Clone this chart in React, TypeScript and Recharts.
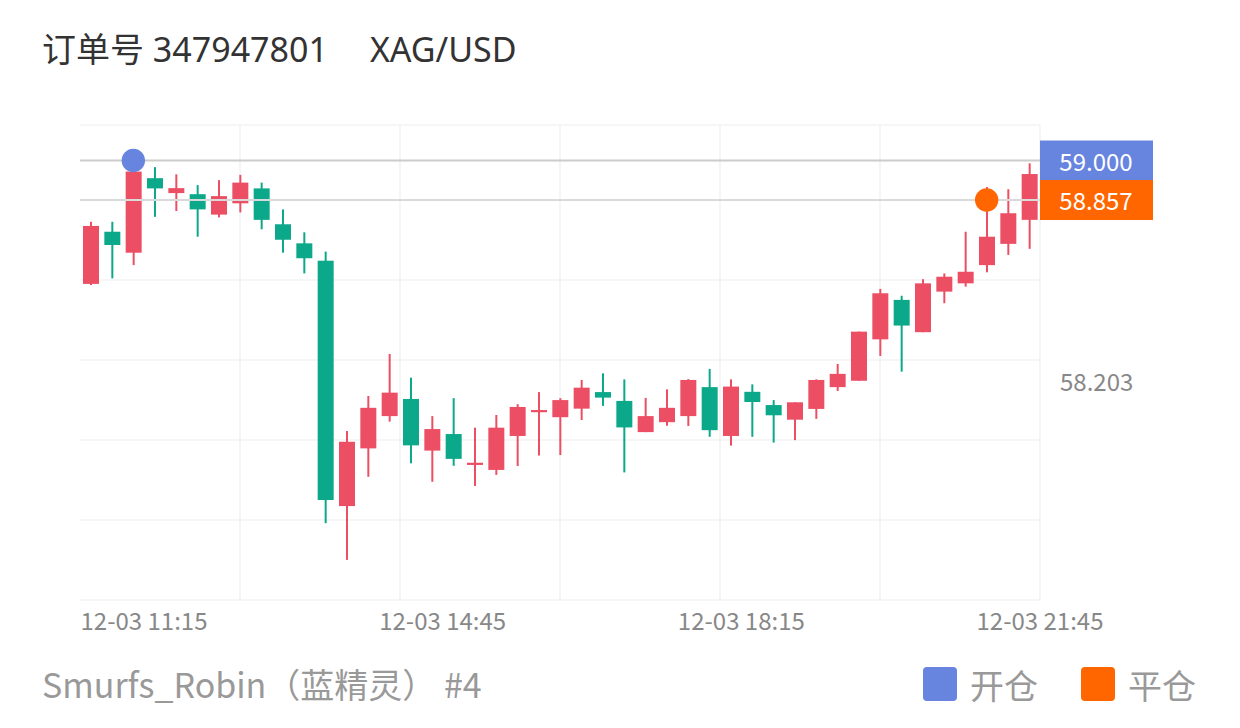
import React from 'react';
import {
  ComposedChart, Bar, XAxis, YAxis, ReferenceLine, ReferenceDot, CartesianGrid,
} from 'recharts';

// 15-minute candles, 12-03
const TIMES = [
  '10:30', '10:45', '11:00', '11:15', '11:30', '11:45', '12:00', '12:15', '12:30', '12:45',
  '13:00', '13:15', '13:30', '13:45', '14:00', '14:15', '14:30', '14:45', '15:00', '15:15',
  '15:30', '15:45', '16:00', '16:15', '16:30', '16:45', '17:00', '17:15', '17:30', '17:45',
  '18:00', '18:15', '18:30', '18:45', '19:00', '19:15', '19:30', '19:45', '20:00', '20:15',
  '20:30', '20:45', '21:00', '21:15', '21:30',
];
const OPEN = [
  58.553, 58.742, 58.666, 58.936, 58.882, 58.878, 58.804, 58.845, 58.899, 58.769,
  58.700, 58.637, 57.748, 57.957, 58.074, 58.136, 57.949, 58.009, 57.897, 57.879,
  58.002, 58.088, 58.070, 58.101, 58.161, 58.129, 58.016, 58.052, 58.074, 58.179,
  58.002, 58.162, 58.114, 58.061, 58.100, 58.179, 58.202, 58.352, 58.495, 58.378,
  58.525, 58.555, 58.621, 58.698, 58.785,
];
const HIGH = [
  58.778, 58.778, 58.990, 58.976, 58.950, 58.911, 58.929, 58.948, 58.920, 58.823,
  58.740, 58.670, 58.020, 58.147, 58.299, 58.213, 58.074, 58.139, 58.032, 58.078,
  58.117, 58.161, 58.139, 58.205, 58.229, 58.207, 58.140, 58.171, 58.208, 58.245,
  58.207, 58.189, 58.132, 58.124, 58.207, 58.263, 58.380, 58.535, 58.510, 58.570,
  58.591, 58.742, 58.904, 58.896, 58.990,
];
const LOW = [
  58.549, 58.573, 58.621, 58.796, 58.817, 58.724, 58.794, 58.812, 58.751, 58.666,
  58.591, 57.686, 57.553, 57.854, 58.054, 57.903, 57.836, 57.894, 57.821, 57.861,
  57.893, 57.931, 57.933, 58.060, 58.111, 57.870, 58.016, 58.039, 58.038, 57.999,
  57.967, 57.999, 57.978, 57.987, 58.064, 58.165, 58.202, 58.292, 58.235, 58.378,
  58.483, 58.543, 58.595, 58.658, 58.680,
];
const CLOSE = [
  58.763, 58.694, 58.960, 58.899, 58.900, 58.823, 58.871, 58.920, 58.785, 58.713,
  58.646, 57.770, 57.981, 58.104, 58.159, 57.968, 58.027, 57.919, 57.905, 58.032,
  58.107, 58.096, 58.132, 58.177, 58.141, 58.033, 58.074, 58.104, 58.205, 58.023,
  58.181, 58.125, 58.077, 58.124, 58.205, 58.227, 58.380, 58.519, 58.402, 58.555,
  58.579, 58.597, 58.724, 58.809, 58.951,
];

// trade markers
const OPEN_TIME = '11:00';
const OPEN_PRICE = 59.0;
const CLOSE_TIME = '21:00';
const CLOSE_PRICE = 58.857;

// axes
const X_DOMAIN = [630, 1305]; // minutes of day, 10:30 .. 21:45
const X_TICKS = [675, 885, 1095, 1305];
const X_TICK_LABELS = ['12-03 11:15', '12-03 14:45', '12-03 18:15', '12-03 21:45'];
const X_GRID = [742.5, 855, 967.5, 1080, 1192.5, 1305];
const Y_MIN = 57.4077;
const Y_MAX = 59.1287;
const Y_GRID = [Y_MAX, 58.857, 58.5671, 58.2772, 57.9874, 57.6975, Y_MIN];
const Y_TICKS = [58.203];

const RED = '#EC4F64';
const GREEN = '#0BA98A';
const BLUE = '#6784DF';
const ORANGE = '#FF6600';
const FONT = '"Noto Sans CJK SC", "Noto Sans", sans-serif';
const TITLE_FONT = '"Noto Sans", "Noto Sans CJK SC", sans-serif';

const toMinutes = (t: string) => {
  const [h, m] = t.split(':').map(Number);
  return h * 60 + m + 7.5;
};

const rows = TIMES.map((t, i) => ({
  t,
  m: toMinutes(t),
  o: OPEN[i],
  h: HIGH[i],
  l: LOW[i],
  c: CLOSE[i],
}));

const Candle = (props: any) => {
  const { x, y, width, height, payload } = props;
  if (x == null || y == null) return null;
  const top = Math.min(y, y + height);
  const bot = Math.max(y, y + height);
  const span = payload.h - payload.l;
  const k = span > 0 ? (bot - top) / span : 0;
  const yOf = (v: number) => top + (payload.h - v) * k;
  const up = payload.c >= payload.o;
  const color = up ? RED : GREEN;
  const bTop = yOf(Math.max(payload.o, payload.c));
  const bBot = yOf(Math.min(payload.o, payload.c));
  const bh = Math.max(bBot - bTop, 2);
  const cx = x + width / 2;
  return (
    <g>
      <rect x={cx - 1} y={top} width={2} height={Math.max(bot - top, 1)} fill={color} />
      <rect x={x} y={bTop - (bh - (bBot - bTop)) / 2} width={width} height={bh} fill={color} />
    </g>
  );
};

const XTick = (props: any) => {
  const { x, y, payload } = props;
  const idx = X_TICKS.indexOf(payload.value);
  return (
    <text x={x} y={y + 19} textAnchor="middle" dominantBaseline="central"
      fill="#888888" fontSize={24} fontFamily={FONT}>
      {X_TICK_LABELS[idx]}
    </text>
  );
};

const YTick = (props: any) => {
  const { x, y, payload } = props;
  return (
    <text x={x + 20} y={y} textAnchor="start" dominantBaseline="central"
      fill="#888888" fontSize={24} fontFamily={FONT}>
      {Number(payload.value).toFixed(3)}
    </text>
  );
};

const priceTag = (bg: string, value: number) => (props: any) => {
  const vb = props.viewBox || {};
  const x = (vb.x || 0) + (vb.width || 0);
  const y = vb.y || 0;
  return (
    <g>
      <rect x={x} y={y - 20} width={113} height={40} fill={bg} />
      <text x={x + 56} y={y} textAnchor="middle" dominantBaseline="central"
        fill="#ffffff" fontSize={24} fontFamily={FONT}>
        {value.toFixed(3)}
      </text>
    </g>
  );
};

export default function App() {
  return (
    <div style={{ position: 'absolute', left: 0, top: 0, width: 1240, height: 728, background: '#fff', fontFamily: FONT }}>
      <div style={{ position: 'absolute', left: 42, top: 26, fontSize: 34, lineHeight: '46px', color: '#333333', whiteSpace: 'pre', fontFamily: TITLE_FONT }}>
        <span>订单号 347947801</span>
        <span style={{ marginLeft: 42 }}>XAG/USD</span>
      </div>
      <ComposedChart width={1240} height={728} data={rows}
        margin={{ top: 125, right: 0, bottom: 0, left: 80 }}
        style={{ position: 'absolute', left: 0, top: 0 }}>
        <CartesianGrid horizontalValues={Y_GRID} verticalValues={X_GRID}
          stroke="#eeeeee" strokeWidth={1.2} />
        <XAxis xAxisId="cat" dataKey="t" type="category" hide />
        <XAxis dataKey="m" type="number" domain={X_DOMAIN} ticks={X_TICKS} interval={0}
          allowDataOverflow height={128} axisLine={false} tickLine={false}
          tickSize={0} tickMargin={0} tick={<XTick />} />
        <YAxis orientation="right" type="number" domain={[Y_MIN, Y_MAX]} ticks={Y_TICKS}
          allowDataOverflow width={200} axisLine={false} tickLine={false}
          tickSize={0} tickMargin={0} tick={<YTick />} interval={0} />
        <ReferenceLine y={OPEN_PRICE} stroke="#cccccc" strokeWidth={2} label={priceTag(BLUE, OPEN_PRICE)} />
        <ReferenceLine y={CLOSE_PRICE} stroke="#cccccc" strokeWidth={2} label={priceTag(ORANGE, CLOSE_PRICE)} />
        <Bar xAxisId="cat" dataKey={(d: any) => [d.l, d.h]} barSize={16}
          shape={<Candle />} isAnimationActive={false} />
        <ReferenceLine y={CLOSE_PRICE} stroke="rgba(255,255,255,0.55)" strokeWidth={1} />
        <ReferenceDot xAxisId="cat" x={OPEN_TIME} y={OPEN_PRICE} r={11.7} fill={BLUE} stroke="none" />
        <ReferenceDot xAxisId="cat" x={CLOSE_TIME} y={CLOSE_PRICE} r={11.7} fill={ORANGE} stroke="none" />
      </ComposedChart>
      <div style={{ position: 'absolute', left: 42, top: 661, fontSize: 34, lineHeight: '46px', color: '#999999', whiteSpace: 'pre' }}>
        Smurfs_Robin（蓝精灵） #4
      </div>
      <div style={{ position: 'absolute', left: 923, top: 661, height: 46, display: 'flex', alignItems: 'center', fontSize: 34, color: '#999999' }}>
        <span style={{ display: 'inline-block', width: 34, height: 34, borderRadius: 4, background: BLUE }} />
        <span style={{ marginLeft: 13 }}>开仓</span>
        <span style={{ display: 'inline-block', width: 34, height: 34, borderRadius: 4, background: ORANGE, marginLeft: 43 }} />
        <span style={{ marginLeft: 13 }}>平仓</span>
      </div>
    </div>
  );
}
